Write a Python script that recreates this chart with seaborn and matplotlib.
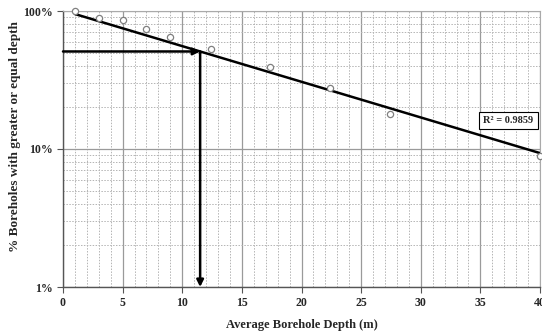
import numpy as np
import pandas as pd
import seaborn as sns
import matplotlib
matplotlib.use("Agg")
import matplotlib.pyplot as plt
from matplotlib.ticker import FixedLocator, NullFormatter, FixedFormatter

# Average borehole depth (m) and share of boreholes at least that deep (%)
depth = [1, 3, 5, 7, 9, 12.4, 17.4, 22.4, 27.4, 40]
share = [100, 89, 86, 74, 65, 53, 39, 27.7, 18, 8.9]
y_ticks = [1, 10, 100]
y_tick_labels = ["1%", "10%", "100%"]
x_ticks = [0, 5, 10, 15, 20, 25, 30, 35, 40]
# exponential trend: share = trend_a * exp(trend_b * depth)
trend_a = 100.9
trend_b = -0.0595
r2_label = "R² = 0.9859"
read_depth = 11.5

df = pd.DataFrame({"depth": depth, "share": share})

sns.set_theme(style="white")
plt.rcParams["font.family"] = ["Liberation Serif", "DejaVu Serif"]
plt.rcParams["font.weight"] = "bold"

fig = plt.figure(figsize=(5.42, 3.34), dpi=100)
ax = fig.add_axes([63 / 542, 1 - 287 / 334, 477 / 542, 276 / 334])
ax.set_yscale("log")
ax.set_xlim(0, 40)
ax.set_ylim(1, 100)

# grid: solid major lines, dotted minor lines
ax.xaxis.set_minor_locator(FixedLocator(np.arange(0, 41, 1)))
ax.yaxis.set_minor_locator(FixedLocator([m * 10 ** e for e in (0, 1) for m in range(2, 10)]))
ax.grid(which="major", color="#9a9a9a", linewidth=0.9, linestyle="-")
ax.grid(which="minor", color="#b4b4b4", linewidth=0.7, linestyle=(0, (1.5, 1.5)))
ax.set_axisbelow(True)

xs = np.linspace(1, 40, 100)
trend = pd.DataFrame({"depth": xs, "share": trend_a * np.exp(trend_b * xs)})
sns.lineplot(data=trend, x="depth", y="share", ax=ax, color="black", linewidth=1.8, zorder=3)

sns.scatterplot(data=df, x="depth", y="share", ax=ax, marker="o", s=20,
                facecolor="white", edgecolor="#808080", linewidth=0.9, zorder=4, clip_on=False)

# read-off arrows at the chosen depth
read_share = trend_a * np.exp(trend_b * read_depth)
ax.annotate("", xy=(read_depth, read_share), xytext=(0, read_share),
            arrowprops=dict(arrowstyle="-|>", color="black", lw=1.8, mutation_scale=10,
                            shrinkA=0, shrinkB=0), zorder=5)
ax.annotate("", xy=(read_depth, 1), xytext=(read_depth, read_share),
            arrowprops=dict(arrowstyle="-|>", color="black", lw=1.8, mutation_scale=10,
                            shrinkA=0, shrinkB=0), zorder=5)

ax.text(37.35, 16, r2_label, fontsize=7.5, fontweight="bold", ha="center", va="center",
        bbox=dict(boxstyle="square,pad=0.4", facecolor="white", edgecolor="black", linewidth=0.8),
        zorder=6)

ax.set_yticks(y_ticks)
ax.yaxis.set_major_formatter(FixedFormatter(y_tick_labels))
ax.yaxis.set_minor_formatter(NullFormatter())
ax.set_xticks(x_ticks)
ax.tick_params(which="major", direction="out", length=4, width=0.8, color="#555555",
               labelsize=8.5, pad=3, left=True, bottom=True)
ax.tick_params(which="minor", length=0)
for lab in ax.get_xticklabels() + ax.get_yticklabels():
    lab.set_fontweight("bold")

for side in ("left", "bottom"):
    ax.spines[side].set_color("#555555")
    ax.spines[side].set_linewidth(1.0)
for side in ("top", "right"):
    ax.spines[side].set_color("#aaaaaa")
    ax.spines[side].set_linewidth(0.8)

ax.set_xlabel("Average Borehole Depth (m)", fontsize=9, fontweight="bold")
ax.xaxis.set_label_coords(0.5, -0.115)
ax.set_ylabel("% Boreholes with greater or equal depth", fontsize=9.5, fontweight="bold")
ax.yaxis.set_label_coords(-0.088, 0.545)

fig.savefig("out.png", dpi=100, facecolor="white")
